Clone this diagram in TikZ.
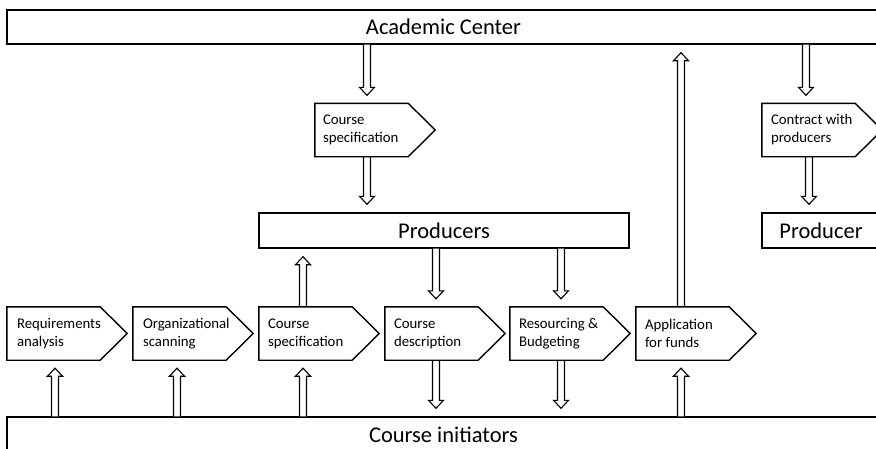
\documentclass[tikz,border=0pt]{standalone}
\usepackage{fontspec}
\setmainfont{Carlito}
\usetikzlibrary{calc}
\tikzset{
  bigbox/.style={draw, line width=1.4pt, inner sep=0pt, font=\fontsize{22.5}{26}\selectfont},
  stepbody/.style={minimum width=93pt, minimum height=53pt, inner sep=0pt},
  steptext/.style={anchor=west, align=left, inner sep=0pt, font=\fontsize{14.8}{18}\selectfont},
  pentline/.style={draw, line width=1.4pt, line join=miter},
  blk/.style={draw, line width=1.1pt, fill=white, line join=miter},
}
% [xshift]{x reference}{from}{to}
\newcommand\blockarrow[4][0pt]{%
  \draw[blk] let \p3=(#2), \p1=(#3), \p2=(#4), \n1={(\y2-\y1)/abs(\y2-\y1)} in
    ({\x3+#1-3.5pt},\y1) -- ({\x3+#1-3.5pt},{\y2-\n1*16pt}) -- ({\x3+#1-7.5pt},{\y2-\n1*16pt})
    -- ({\x3+#1},{\y2-\n1*8pt}) -- ({\x3+#1+7.5pt},{\y2-\n1*16pt}) -- ({\x3+#1+3.5pt},{\y2-\n1*16pt})
    -- ({\x3+#1+3.5pt},\y1);}
\newcommand\pentagon[1]{%
  \draw[pentline] (#1.north west) -- (#1.north east) -- ([xshift=27pt]#1.east) -- (#1.south east) -- (#1.south west) -- cycle;}
\begin{document}
\begin{tikzpicture}[x=1pt,y=-1pt]
\useasboundingbox (0,0) rectangle (876,448);
% big boxes
\node[bigbox, minimum width=873pt, minimum height=34pt] (acad) at (443.5,27) {Academic Center};
\node[bigbox, minimum width=370pt, minimum height=35pt] (prods) at (444,230.5) {Producers};
\node[bigbox, minimum width=118pt, minimum height=35pt] (prod) at (821,230.5) {Producer};
\node[bigbox, minimum width=873pt, minimum height=36pt] (init) at (443.5,435) {Course initiators};
% step bodies
\node[stepbody] (tspec) at (361.5,130) {};
\node[stepbody] (contr) at (808.5,130) {};
\node[stepbody] (req) at (53.5,333.5) {};
\node[stepbody] (org) at (179.5,333.5) {};
\node[stepbody] (spec) at (305.5,333.5) {};
\node[stepbody] (desc) at (431.5,333.5) {};
\node[stepbody] (res) at (556.5,333.5) {};
\node[stepbody] (app) at (682.5,333.5) {};
% arrows
\blockarrow[5.5pt]{tspec}{acad.south}{tspec.north}
\blockarrow[5.5pt]{tspec}{tspec.south}{prods.north}
\blockarrow[-2.5pt]{contr}{acad.south}{contr.north}
\blockarrow[0.5pt]{contr}{contr.south}{prod.north}
\blockarrow[1.5pt]{req}{init.north}{req.south}
\blockarrow[-2.5pt]{org}{init.north}{org.south}
\blockarrow[-2.5pt]{spec}{init.north}{spec.south}
\blockarrow[-2.5pt]{spec}{spec.north}{prods.south}
\blockarrow[4.5pt]{desc}{prods.south}{desc.north}
\blockarrow[4.5pt]{desc}{desc.south}{init.north}
\blockarrow[4.5pt]{res}{prods.south}{res.north}
\blockarrow[4.5pt]{res}{res.south}{init.north}
\blockarrow[-1.5pt]{app}{init.north}{app.south}
\blockarrow[-1.5pt]{app}{app.north}{acad.south}
% pentagons
\foreach \n in {tspec,contr,req,org,spec,desc,res,app} {\pentagon{\n}}
% texts
\node[steptext] (tspect) at ([xshift=8pt]tspec.west) {Course\\specification};
\node[steptext] (contrt) at ([xshift=9pt]contr.west) {Contract with\\producers};
\node[steptext] (reqt) at ([xshift=10pt]req.west) {Requirements\\analysis};
\node[steptext] (orgt) at ([xshift=10pt]org.west) {Organizational\\scanning};
\node[steptext] (spect) at ([xshift=9pt]spec.west) {Course\\specification};
\node[steptext] (desct) at ([xshift=9pt]desc.west) {Course\\description};
\node[steptext] (rest) at ([xshift=9pt]res.west) {Resourcing \&\\Budgeting};
\node[steptext] (appt) at ([xshift=9pt]app.west) {Application\\for funds};
\end{tikzpicture}
\end{document}
